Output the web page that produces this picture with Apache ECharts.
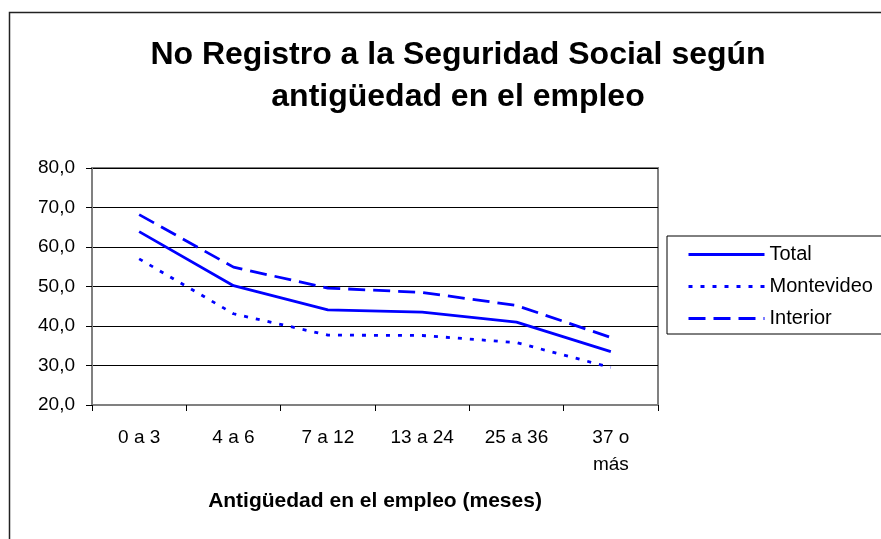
<!DOCTYPE html>
<html>
<head>
<meta charset="utf-8">
<script src="https://cdn.jsdelivr.net/npm/echarts@6/dist/echarts.min.js"></script>
<style>
  html, body { margin: 0; padding: 0; background: #fff; }
  #chart { width: 881px; height: 539px; }
</style>
</head>
<body>
<div id="chart"></div>
<script>
const titleLines = ['No Registro a la Seguridad Social según', 'antigüedad en el empleo'];
const xAxisTitle = 'Antigüedad en el empleo (meses)';
const categories = ['0 a 3', '4 a 6', '7 a 12', '13 a 24', '25 a 36', '37 o\nmás'];
const seriesNames = ['Total', 'Montevideo', 'Interior'];
const totalValues = [63.9, 50.2, 44.1, 43.5, 41.0, 33.5];
const montevideoValues = [57.0, 43.1, 37.7, 37.6, 35.8, 29.5];
const interiorValues = [68.2, 54.9, 49.6, 48.5, 45.2, 37.1];
const yMin = 20, yMax = 80, yStep = 10;

const FONT = '"Liberation Sans", Arial, sans-serif';
const BLUE = '#0000FF';

const chart = echarts.init(document.getElementById('chart'), null, { renderer: 'canvas' });

chart.setOption({
  backgroundColor: '#ffffff',
  animation: false,
  title: {
    text: titleLines.join('\n'),
    left: 453,
    top: 29,
    textAlign: 'center',
    textStyle: { fontFamily: FONT, fontWeight: 'bold', fontSize: 32, lineHeight: 42, color: '#000' }
  },
  graphic: [
    { type: 'rect', silent: true, z: -1,
      shape: { x: 9.5, y: 12.5, width: 1000, height: 1000 },
      style: { fill: 'none', stroke: '#222', lineWidth: 1.5 } }
  ],
  legend: {
    orient: 'vertical',
    left: 667,
    top: 236,
    data: seriesNames,
    itemWidth: 76,
    itemHeight: 14,
    itemGap: 9,
    padding: [7, 60, 4, 20],
    borderColor: '#000',
    borderWidth: 1,
    backgroundColor: '#fff',
    itemStyle: { opacity: 0, borderWidth: 0 },
    lineStyle: { width: 3 },
    textStyle: { fontFamily: FONT, fontSize: 20, lineHeight: 23, color: '#000' }
  },
  grid: {
    left: 92, right: 223, top: 168, bottom: 134,
    show: true, borderColor: '#808080', borderWidth: 2, backgroundColor: 'transparent'
  },
  xAxis: {
    type: 'category',
    data: categories,
    boundaryGap: true,
    axisLine: { show: true, lineStyle: { color: '#808080', width: 2 } },
    axisTick: { show: true, inside: false, length: 6, alignWithLabel: false, lineStyle: { color: '#000', width: 1 } },
    axisLabel: { fontFamily: FONT, fontSize: 19, lineHeight: 27, color: '#000', margin: 19, interval: 0 },
    name: xAxisTitle,
    nameLocation: 'middle',
    nameGap: 86,
    nameTextStyle: { fontFamily: FONT, fontWeight: 'bold', fontSize: 21, color: '#000' },
    splitLine: { show: false }
  },
  yAxis: {
    type: 'value',
    min: yMin, max: yMax, interval: yStep,
    axisLine: { show: true, lineStyle: { color: '#808080', width: 2 } },
    axisTick: { show: true, inside: false, length: 6, lineStyle: { color: '#000', width: 1 } },
    axisLabel: {
      fontFamily: FONT, fontSize: 19, color: '#000', margin: 17,
      formatter: v => v.toFixed(1).replace('.', ',')
    },
    splitLine: { show: true, lineStyle: { color: '#000', width: 1 } }
  },
  series: [
    { name: seriesNames[0], type: 'line', data: totalValues, symbol: 'none',
      lineStyle: { color: BLUE, width: 2.8, type: 'solid' }, itemStyle: { color: BLUE } },
    { name: seriesNames[1], type: 'line', data: montevideoValues, symbol: 'none',
      lineStyle: { color: BLUE, width: 2.8, type: [4, 8] }, itemStyle: { color: BLUE } },
    { name: seriesNames[2], type: 'line', data: interiorValues, symbol: 'none',
      lineStyle: { color: BLUE, width: 2.8, type: [17, 8] }, itemStyle: { color: BLUE } }
  ]
});
</script>
</body>
</html>
